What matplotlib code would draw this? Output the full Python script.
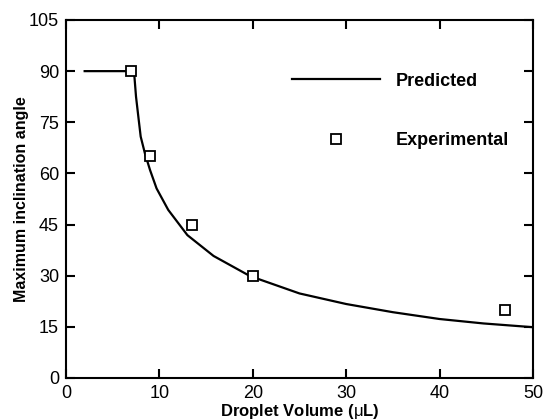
import matplotlib
matplotlib.use("Agg")
import matplotlib.pyplot as plt

# predicted curve
pred_volume = [2, 7.2, 7.3, 7.5, 7.75, 8.0, 8.45, 9.0, 9.7, 10.95, 13.0, 15.8,
               19.7, 25.0, 30.0, 35.0, 40.0, 44.7, 50]
pred_angle = [90, 90, 89.4, 82.5, 76.6, 70.8, 65.9, 61.0, 55.6, 49.3, 41.9, 35.8,
              29.9, 24.8, 21.7, 19.3, 17.3, 16.0, 14.9]

# experimental points
exp_volume = [7, 9, 13.5, 20, 47]
exp_angle = [90, 65, 45, 30, 20]

x_ticks = [0, 10, 20, 30, 40, 50]
y_ticks = [0, 15, 30, 45, 60, 75, 90, 105]

plt.rcParams.update({
    "font.family": ["Liberation Sans", "DejaVu Sans"],
    "mathtext.fontset": "custom",
    "mathtext.rm": "Liberation Sans",
    "mathtext.bf": "Liberation Sans:bold",
})

fig = plt.figure(figsize=(5.43, 4.2), dpi=100)
ax = fig.add_axes([0.1215, 0.1, 0.8600, 0.8524])

ax.plot(pred_volume, pred_angle, color="black", lw=1.6, label="Predicted")
ax.plot(exp_volume, exp_angle, ls="none", marker="s", ms=7, mfc="white",
        mec="black", mew=1.3, label="Experimental")

ax.set_xlim(0, 50)
ax.set_ylim(0, 105)
ax.set_xticks(x_ticks)
ax.set_yticks(y_ticks)

for spine in ax.spines.values():
    spine.set_linewidth(1.5)
    spine.set_color("black")

ax.tick_params(axis="both", direction="in", top=True, right=True,
               length=6.5, width=1.5, labelsize=13)
ax.tick_params(axis="x", pad=5)
ax.tick_params(axis="y", pad=5)

ax.set_xlabel(r"Droplet Volume ($\mathrm{\mu}$L)", fontsize=12,
              fontweight="bold", labelpad=0)
ax.set_ylabel("Maximum inclination angle", fontsize=11.5,
              fontweight="bold", labelpad=0)

ax.legend(loc="upper left", bbox_to_anchor=(0.484, 0.853), frameon=False,
          borderaxespad=0, borderpad=0, handlelength=4.9, handletextpad=0.83,
          labelspacing=2.37, numpoints=1, prop={"weight": "bold", "size": 13})

fig.savefig("out.png", dpi=100)
